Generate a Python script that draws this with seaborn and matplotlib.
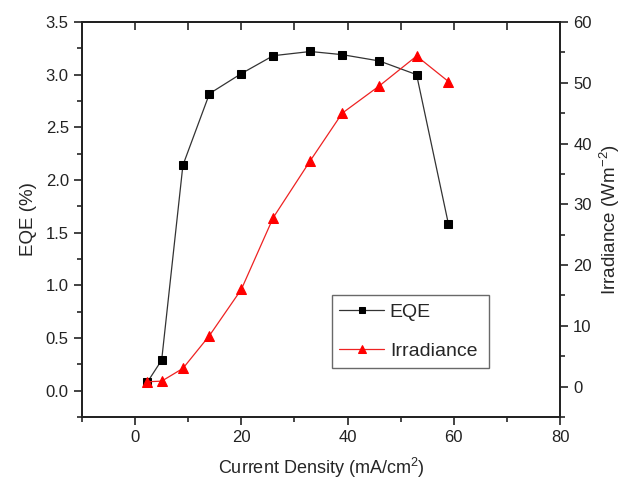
import matplotlib
matplotlib.use("Agg")
import matplotlib.pyplot as plt
import seaborn as sns
import pandas as pd
from matplotlib.ticker import MultipleLocator

sns.set_style("ticks")
plt.rcParams['font.family'] = ['Liberation Sans', 'DejaVu Sans']
plt.rcParams['mathtext.fontset'] = 'custom'
plt.rcParams['mathtext.rm'] = 'Liberation Sans'

current_density = [2.3, 5.0, 9.0, 14.0, 20.0, 26.0, 33.0, 39.0, 46.0, 53.0, 59.0]
eqe = [0.08, 0.29, 2.14, 2.82, 3.01, 3.18, 3.22, 3.19, 3.13, 3.00, 1.58]
irradiance = [0.8, 0.9, 3.0, 8.4, 16.0, 27.8, 37.2, 45.0, 49.5, 54.4, 50.2]

df = pd.DataFrame({"x": current_density, "eqe": eqe, "irr": irradiance})

fig = plt.figure(figsize=(6.21, 4.82), dpi=100)
ax = fig.add_axes([82/621, 65/482, 478/621, 395/482])
ax2 = ax.twinx()

sns.lineplot(data=df, x="x", y="eqe", ax=ax, color="#333333", lw=0.9,
             marker="s", markersize=6, markerfacecolor="black",
             markeredgecolor="black", label="EQE", legend=False)
sns.lineplot(data=df, x="x", y="irr", ax=ax2, color="#ee2222", lw=0.9,
             marker="^", markersize=7.5, markerfacecolor="#ff0000",
             markeredgecolor="#ff0000", label="Irradiance", legend=False)

ax.set_xlim(-10, 80)
ax.set_ylim(-0.25, 3.5)
ax2.set_ylim(-5, 60)

ax.xaxis.set_major_locator(MultipleLocator(20))
ax.xaxis.set_minor_locator(MultipleLocator(10))
ax.yaxis.set_major_locator(MultipleLocator(0.5))
ax.yaxis.set_minor_locator(MultipleLocator(0.25))
ax2.yaxis.set_major_locator(MultipleLocator(10))
ax2.yaxis.set_minor_locator(MultipleLocator(5))

ax.tick_params(axis='both', which='major', direction='out', length=6, width=1.2,
               labelsize=12, colors='#222222')
ax.tick_params(axis='both', which='minor', direction='out', length=3.5, width=1.2)
ax2.tick_params(axis='y', which='major', direction='out', length=6, width=1.2,
                labelsize=12, colors='#222222')
ax2.tick_params(axis='y', which='minor', direction='out', length=3.5, width=1.2)

# top ticks inward (no labels)
secx = ax.secondary_xaxis('top')
secx.xaxis.set_major_locator(MultipleLocator(10))
secx.tick_params(direction='in', length=6, width=1.2, labelsize=0, labeltop=False)
secx.spines['top'].set_linewidth(1.3)

for a in (ax, ax2):
    for s in a.spines.values():
        s.set_linewidth(1.3)
        s.set_color('#222222')
        s.set_visible(True)

ax.set_xlabel("Current Density (mA/cm$^2$)", fontsize=13, labelpad=8)
ax.set_ylabel("EQE (%)", fontsize=13.5, labelpad=6)
ax2.set_ylabel("Irradiance (Wm$^{-2}$)", fontsize=13.5, labelpad=4)

h1, l1 = ax.get_legend_handles_labels()
h2, l2 = ax2.get_legend_handles_labels()
leg = ax2.legend(h1 + h2, l1 + l2, loc='lower left', bbox_to_anchor=(0.522, 0.125, 0.33, 0.195),
                 mode='expand', fontsize=14, labelspacing=1.1, frameon=True, fancybox=False,
                 edgecolor='#444444', handlelength=2.3, borderaxespad=0, handletextpad=0.3,
                 markerscale=0.8)
leg.get_frame().set_linewidth(1.0)

fig.savefig("out.png", dpi=100)
